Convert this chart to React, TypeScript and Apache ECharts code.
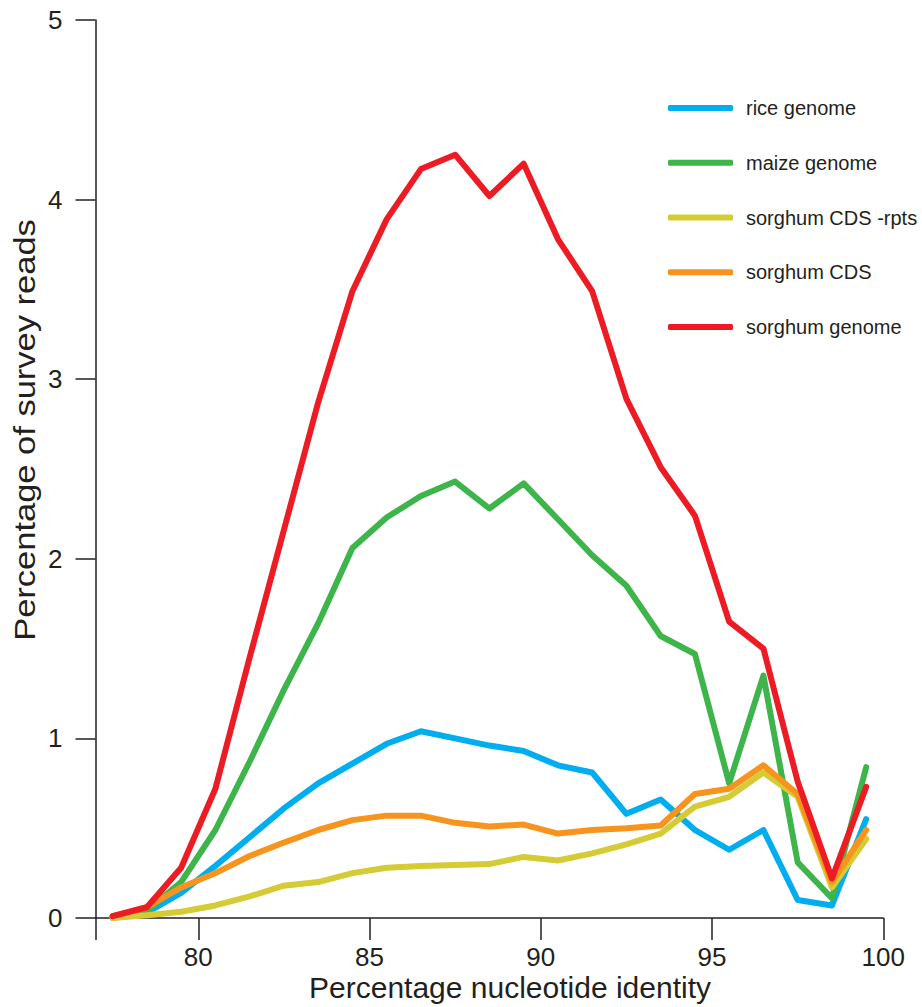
import React, { useEffect, useRef } from "react";
import * as echarts from "echarts";

const identity = [77.5, 78.5, 79.5, 80.5, 81.5, 82.5, 83.5, 84.5, 85.5, 86.5, 87.5, 88.5, 89.5, 90.5, 91.5, 92.5, 93.5, 94.5, 95.5, 96.5, 97.5, 98.5, 99.5];

const riceGenome = [0.0, 0.03, 0.14, 0.29, 0.45, 0.61, 0.75, 0.86, 0.97, 1.04, 1.0, 0.96, 0.93, 0.85, 0.81, 0.58, 0.66, 0.49, 0.38, 0.49, 0.1, 0.07, 0.55];
const maizeGenome = [0.01, 0.04, 0.2, 0.49, 0.87, 1.27, 1.64, 2.06, 2.23, 2.35, 2.43, 2.28, 2.42, 2.22, 2.02, 1.85, 1.57, 1.47, 0.75, 1.35, 0.31, 0.11, 0.84];
const sorghumCdsRpts = [0.0, 0.015, 0.035, 0.07, 0.12, 0.18, 0.2, 0.25, 0.28, 0.29, 0.295, 0.3, 0.34, 0.32, 0.36, 0.41, 0.47, 0.62, 0.675, 0.81, 0.675, 0.17, 0.44];
const sorghumCds = [0.01, 0.06, 0.17, 0.25, 0.345, 0.42, 0.49, 0.545, 0.57, 0.57, 0.53, 0.51, 0.52, 0.47, 0.49, 0.5, 0.515, 0.69, 0.72, 0.85, 0.69, 0.2, 0.49];
const sorghumGenome = [0.01, 0.06, 0.28, 0.72, 1.45, 2.16, 2.87, 3.49, 3.89, 4.17, 4.25, 4.02, 4.2, 3.78, 3.49, 2.89, 2.51, 2.24, 1.65, 1.5, 0.76, 0.22, 0.73];

const seriesNames = ["rice genome", "maize genome", "sorghum CDS -rpts", "sorghum CDS", "sorghum genome"];
const seriesValues = [riceGenome, maizeGenome, sorghumCdsRpts, sorghumCds, sorghumGenome];
const seriesColors = ["#00AEEF", "#3DB54A", "#D5CB35", "#F7941D", "#ED1C24"];

const xTickValues = [77, 80, 85, 90, 95, 100];
const xLabelValues = [80, 85, 90, 95, 100];

const xTitle = "Percentage nucleotide identity";
const yTitle = "Percentage of survey reads";

const FONT = "'Liberation Sans', Arial, Helvetica, sans-serif";
const INK = "#231F20";

export default function App() {
  const ref = useRef<HTMLDivElement>(null);

  useEffect(() => {
    document.body.style.margin = "0";
    if (!ref.current) return;
    const chart = echarts.init(ref.current, undefined, { renderer: "svg" });

    const series = seriesNames.map((name, i) => ({
      name,
      type: "line",
      data: identity.map((x, j) => [x, seriesValues[i][j]]),
      showSymbol: false,
      symbol: "none",
      color: seriesColors[i],
      lineStyle: { color: seriesColors[i], width: 6, cap: "round", join: "round" },
      z: 2 + i,
    }));

    chart.setOption({
      animation: false,
      backgroundColor: "#ffffff",
      textStyle: { fontFamily: FONT },
      grid: { left: 95.5, right: 38.7, top: 20, bottom: 89, containLabel: false },
      xAxis: {
        type: "value",
        min: 77,
        max: 100,
        axisLine: { show: true, lineStyle: { color: INK, width: 1.5 } },
        axisTick: {
          show: true,
          length: 22,
          customValues: xTickValues,
          lineStyle: { color: INK, width: 1.5 },
        },
        axisLabel: {
          customValues: xLabelValues,
          margin: 26,
          fontSize: 26,
          color: INK,
          fontFamily: FONT,
        },
        splitLine: { show: false },
      },
      yAxis: {
        type: "value",
        min: 0,
        max: 5,
        interval: 1,
        axisLine: { show: true, lineStyle: { color: INK, width: 1.5 } },
        axisTick: { show: true, length: 20, lineStyle: { color: INK, width: 1.5 } },
        axisLabel: { margin: 33, fontSize: 26, color: INK, fontFamily: FONT },
        splitLine: { show: false },
      },
      legend: {
        orient: "vertical",
        left: 663,
        top: 93,
        itemWidth: 65,
        itemHeight: 6,
        itemGap: 34.75,
        icon: "roundRect",
        data: seriesNames,
        textStyle: { fontSize: 20, lineHeight: 20, color: INK, fontFamily: FONT, padding: [0, 0, 0, 8] },
      },
      graphic: [
        {
          type: "text",
          x: 510,
          y: 987,
          style: {
            text: xTitle,
            fontSize: 30,
            fontFamily: FONT,
            fill: INK,
            align: "center",
            verticalAlign: "middle",
          },
        },
        {
          type: "text",
          x: 25,
          y: 430,
          rotation: Math.PI / 2,
          scaleX: 1.15,
          style: {
            text: yTitle,
            fontSize: 30,
            fontFamily: FONT,
            fill: INK,
            align: "center",
            verticalAlign: "middle",
          },
        },
      ],
      series,
    });

    return () => chart.dispose();
  }, []);

  return <div ref={ref} style={{ width: 922, height: 1007 }} />;
}
